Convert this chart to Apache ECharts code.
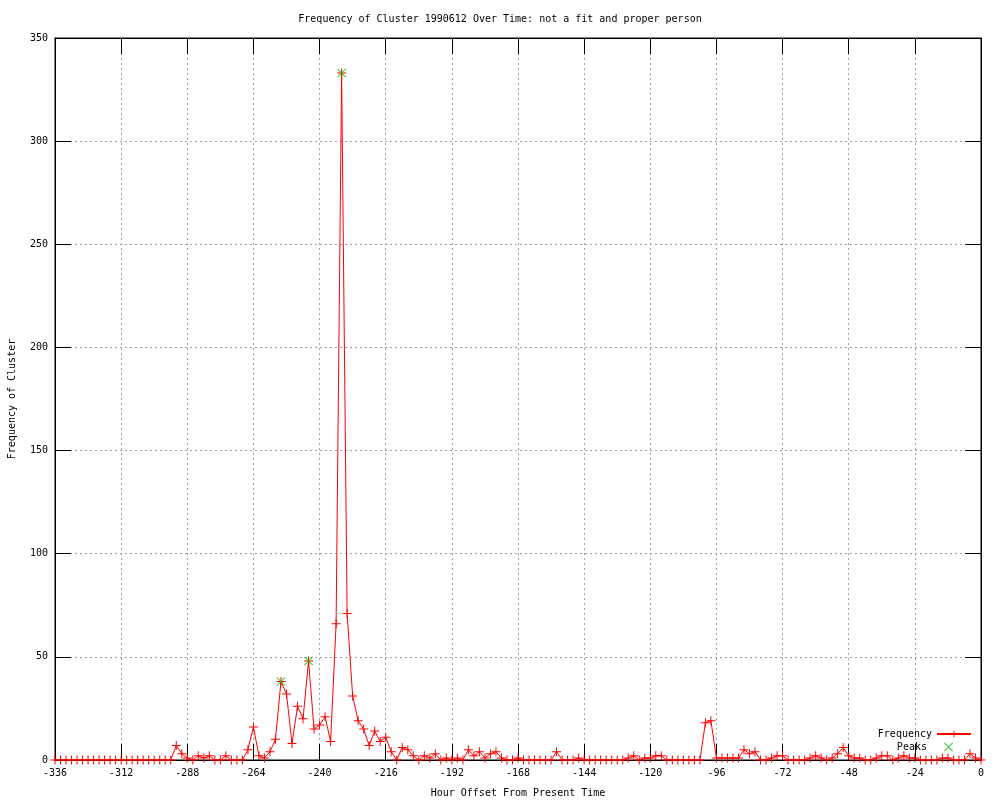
<!DOCTYPE html>
<html>
<head>
<meta charset="utf-8">
<script src="https://cdn.jsdelivr.net/npm/echarts@6/dist/echarts.min.js"></script>
<style>
html,body{margin:0;padding:0;background:#fff;}
#chart{width:1000px;height:800px;}
</style>
</head>
<body>
<div id="chart"></div>
<script>
// Hour offsets (every 2 hours)
const hours = [
  -336,-334,-332,-330,-328,-326,-324,-322,-320,-318,-316,-314,
  -312,-310,-308,-306,-304,-302,-300,-298,-296,-294,-292,-290,
  -288,-286,-284,-282,-280,-278,-276,-274,-272,-270,-268,-266,
  -264,-262,-260,-258,-256,-254,-252,-250,-248,-246,-244,-242,
  -240,-238,-236,-234,-232,-230,-228,-226,-224,-222,-220,-218,
  -216,-214,-212,-210,-208,-206,-204,-202,-200,-198,-196,-194,
  -192,-190,-188,-186,-184,-182,-180,-178,-176,-174,-172,-170,
  -168,-166,-164,-162,-160,-158,-156,-154,-152,-150,-148,-146,
  -144,-142,-140,-138,-136,-134,-132,-130,-128,-126,-124,-122,
  -120,-118,-116,-114,-112,-110,-108,-106,-104,-102,-100,-98,
  -96,-94,-92,-90,-88,-86,-84,-82,-80,-78,-76,-74,
  -72,-70,-68,-66,-64,-62,-60,-58,-56,-54,-52,-50,
  -48,-46,-44,-42,-40,-38,-36,-34,-32,-30,-28,-26,
  -24,-22,-20,-18,-16,-14,-12,-10,-8,-6,-4,-2,
  0
];
const frequency = [
  0,0,0,0,0,0,0,0,0,0,0,0,
  0,0,0,0,0,0,0,0,0,0,7,3,
  1,0,2,1,2,0,0,2,0,0,0,5,
  16,2,1,4,10,38,32,8,26,20,48,15,
  17,21,9,66,333,71,31,19,15,7,14,9,
  11,4,0,6,5,2,0,2,1,3,0,1,
  0,1,0,5,2,4,1,3,4,1,0,0,
  1,0,0,0,0,0,0,4,0,0,0,1,
  0,0,0,0,0,0,0,0,1,2,0,1,
  1,2,2,0,0,0,0,0,0,0,18,19,
  1,1,1,1,1,5,3,4,0,0,1,2,
  2,0,0,0,0,1,2,1,0,1,3,6,
  2,1,1,0,0,1,2,2,0,1,2,1,
  1,0,0,0,0,1,1,0,0,0,3,1,
  0
];
const peakHours = [-254, -244, -232];
const peakValues = [38, 48, 333];

const titleText = 'Frequency of Cluster 1990612 Over Time: not a fit and proper person';
const xName = 'Hour Offset From Present Time';
const yName = 'Frequency of Cluster';

const FONT = 'DejaVu Sans Mono';
const plusPath = 'path://M4,0h1v4h4v1h-4v4h-1v-4h-4v-1h4z';
const crossPath = 'path://M0,0.7L0.7,0L4.5,3.8L8.3,0L9,0.7L5.2,4.5L9,8.3L8.3,9L4.5,5.2L0.7,9L0,8.3L3.8,4.5Z';

const freqData = hours.map((h, i) => [h, frequency[i]]);
const peakData = peakHours.map((h, i) => [h, peakValues[i]]);

const chart = echarts.init(document.getElementById('chart'), null, {renderer: 'canvas'});
const tickStyle = {show: true, inside: true, length: 16, lineStyle: {color: '#000', width: 1}};
const gridStyle = {show: true, lineStyle: {color: '#a0a0a0', type: [2, 3], width: 1}};

chart.setOption({
  backgroundColor: '#fff',
  animation: false,
  title: {
    text: titleText, left: 'center', top: 9,
    textStyle: {fontFamily: FONT, fontSize: 10, fontWeight: 'normal', color: '#000'}
  },
  grid: {left: 55, right: 19, top: 38, bottom: 40, show: true, borderColor: '#000', borderWidth: 1,
         containLabel: false, outerBoundsMode: 'none'},
  legend: [
    {
      data: ['Frequency'], orient: 'vertical', right: 23, top: 724, align: 'right',
      itemWidth: 34, itemHeight: 9, itemGap: 0,
      textStyle: {fontFamily: FONT, fontSize: 10, color: '#000'}
    },
    {
      data: [{name: 'Peaks', icon: crossPath}], orient: 'vertical', right: 42, top: 737, align: 'right',
      itemWidth: 9, itemHeight: 9, itemGap: 0,
      formatter: name => name + '  ',
      textStyle: {fontFamily: FONT, fontSize: 10, color: '#000'}
    }
  ],
  xAxis: [
    {
      type: 'value', min: -336, max: 0, interval: 24, position: 'bottom',
      name: xName, nameLocation: 'middle', nameGap: 28,
      nameTextStyle: {fontFamily: FONT, fontSize: 10, color: '#000'},
      axisLine: {show: true, onZero: false, lineStyle: {color: '#000', width: 1}},
      axisTick: tickStyle,
      axisLabel: {fontFamily: FONT, fontSize: 10, color: '#000', margin: 8},
      splitLine: gridStyle
    },
    {
      type: 'value', min: -336, max: 0, interval: 24, position: 'top',
      axisLine: {show: true, onZero: false, lineStyle: {color: '#000', width: 1}},
      axisTick: tickStyle, axisLabel: {show: false}, splitLine: {show: false}
    }
  ],
  yAxis: [
    {
      type: 'value', min: 0, max: 350, interval: 50, position: 'left',
      name: yName, nameLocation: 'middle', nameGap: 38, nameRotate: 90,
      nameTextStyle: {fontFamily: FONT, fontSize: 10, color: '#000'},
      axisLine: {show: true, onZero: false, lineStyle: {color: '#000', width: 1}},
      axisTick: tickStyle,
      axisLabel: {fontFamily: FONT, fontSize: 10, color: '#000', margin: 7},
      splitLine: gridStyle
    },
    {
      type: 'value', min: 0, max: 350, interval: 50, position: 'right',
      axisLine: {show: true, onZero: false, lineStyle: {color: '#000', width: 1}},
      axisTick: tickStyle, axisLabel: {show: false}, splitLine: {show: false}
    }
  ],
  series: [
    {
      name: 'Frequency', type: 'line', data: freqData,
      xAxisIndex: 0, yAxisIndex: 0,
      symbol: plusPath, symbolSize: 9, showSymbol: true, showAllSymbol: true,
      itemStyle: {color: '#ff0000'},
      lineStyle: {color: '#ff0000', width: 1},
      z: 3
    },
    {
      name: 'Peaks', type: 'scatter', data: peakData,
      xAxisIndex: 0, yAxisIndex: 0,
      symbol: crossPath, symbolSize: 9,
      itemStyle: {color: '#00c000'},
      z: 4
    }
  ]
});
</script>
</body>
</html>
